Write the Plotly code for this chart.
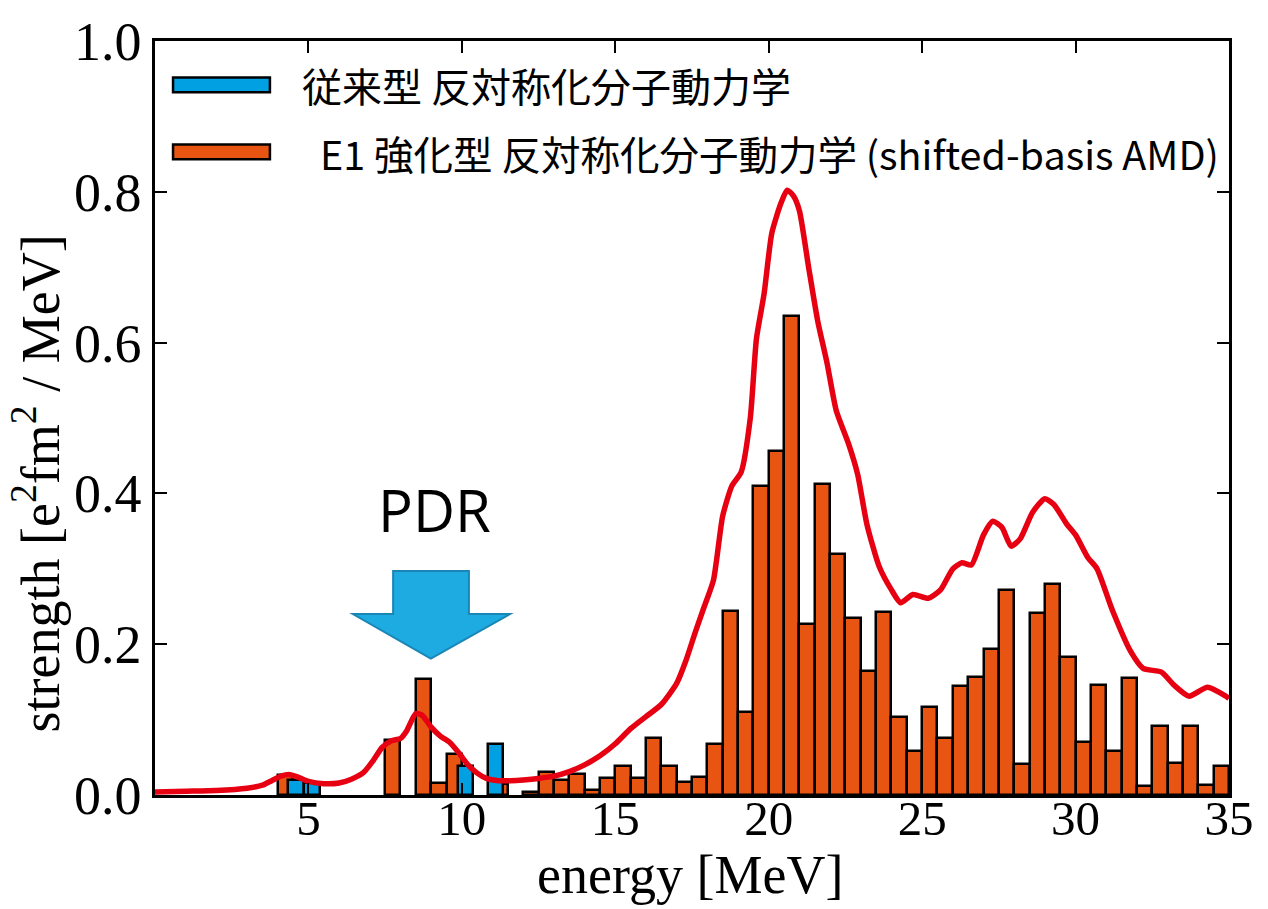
import plotly.graph_objects as go

# ---------------- data ----------------
# orange bars: shifted-basis AMD, 0.5 MeV bins (bin centers)
sb_energy = [4.25, 7.75, 8.75, 9.25, 9.75, 11.25, 12.25, 12.75, 13.25, 13.75, 14.25,
             14.75, 15.25, 15.75, 16.25, 16.75, 17.25, 17.75, 18.25, 18.75, 19.25,
             19.75, 20.25, 20.75, 21.25, 21.75, 22.25, 22.75, 23.25, 23.75, 24.25,
             24.75, 25.25, 25.75, 26.25, 26.75, 27.25, 27.75, 28.25, 28.75, 29.25,
             29.75, 30.25, 30.75, 31.25, 31.75, 32.25, 32.75, 33.25, 33.75, 34.25,
             34.75]
sb_strength = [0.026, 0.073, 0.154, 0.016, 0.054, 0.015, 0.004, 0.030, 0.020, 0.028, 0.007,
               0.022, 0.038, 0.022, 0.076, 0.039, 0.017, 0.024, 0.068, 0.244, 0.110,
               0.410, 0.456, 0.635, 0.227, 0.413, 0.319, 0.235, 0.164, 0.243, 0.103,
               0.059, 0.117, 0.076, 0.145, 0.156, 0.194, 0.272, 0.041, 0.242, 0.280,
               0.183, 0.070, 0.146, 0.058, 0.155, 0.012, 0.092, 0.042, 0.092, 0.013,
               0.039]

# blue bars: conventional AMD
conv_energy = [4.6, 5.12, 10.12, 11.1]
conv_strength = [0.020, 0.016, 0.038, 0.068]

# red smoothed strength function
curve_energy = [0.0, 1.0, 2.0, 3.0, 3.5, 3.8, 4.1, 4.4, 4.7, 5.0, 5.5, 6.0, 6.4, 6.8, 7.1,
                7.4, 7.7, 8.0, 8.2, 8.5, 8.7, 9.0, 9.3, 9.6, 9.9, 10.2, 10.5, 10.8, 11.2,
                11.6, 12.0, 12.5, 13.0, 13.5, 14.0, 14.5, 15.0, 15.5, 16.0, 16.5, 17.0,
                17.3, 17.6, 17.9, 18.2, 18.5, 18.8, 19.1, 19.4, 19.6, 19.85, 20.1, 20.4,
                20.6, 20.8, 21.0, 21.3, 21.6, 21.9, 22.2, 22.6, 22.9, 23.2, 23.6, 24.0,
                24.3, 24.7, 25.2, 25.6, 26.0, 26.3, 26.6, 27.0, 27.3, 27.6, 27.9, 28.2,
                28.6, 29.0, 29.3, 29.7, 30.0, 30.4, 30.7, 31.2, 31.8, 32.2, 32.8, 33.2,
                33.7, 34.3, 34.9, 35.0]
curve_strength = [0.004, 0.005, 0.006, 0.009, 0.013, 0.019, 0.025, 0.027, 0.023, 0.018, 0.015,
                  0.016, 0.021, 0.030, 0.045, 0.063, 0.072, 0.075, 0.085, 0.108, 0.106, 0.090,
                  0.078, 0.070, 0.056, 0.040, 0.029, 0.022, 0.019, 0.019, 0.020, 0.022, 0.025,
                  0.031, 0.040, 0.052, 0.068, 0.088, 0.104, 0.120, 0.148, 0.178, 0.215, 0.250,
                  0.285, 0.370, 0.410, 0.428, 0.500, 0.605, 0.665, 0.745, 0.785, 0.802, 0.795,
                  0.775, 0.700, 0.628, 0.573, 0.510, 0.466, 0.425, 0.359, 0.303, 0.272, 0.255,
                  0.266, 0.261, 0.272, 0.300, 0.308, 0.305, 0.345, 0.363, 0.355, 0.330, 0.340,
                  0.375, 0.393, 0.385, 0.360, 0.345, 0.315, 0.300, 0.245, 0.190, 0.168, 0.163,
                  0.146, 0.131, 0.143, 0.131, 0.128]

x_tick_vals = [5, 10, 15, 20, 25, 30, 35]
y_tick_vals = [0.0, 0.2, 0.4, 0.6, 0.8, 1.0]

legend_conv = "従来型 反対称化分子動力学"
legend_sb = "E1 強化型 反対称化分子動力学 (shifted-basis AMD)"

ORANGE = "#e85513"
BLUE = "#00a0e2"
RED = "#e60012"
SERIF = "Liberation Serif, Times New Roman, serif"
CJK = "Noto Sans CJK JP, Noto Sans, sans-serif"

fig = go.Figure()
fig.add_trace(go.Scatter(x=curve_energy, y=curve_strength, mode="lines",
                         line=dict(color=RED, width=5.5, shape="spline", smoothing=0.6),
                         showlegend=False, cliponaxis=True))
fig.add_trace(go.Bar(x=sb_energy, y=sb_strength, width=0.5, marker=dict(color=ORANGE,
                     line=dict(color="black", width=2.5)), showlegend=False))
fig.add_trace(go.Bar(x=conv_energy, y=conv_strength, width=0.5, marker=dict(color=BLUE,
                     line=dict(color="black", width=2.5)), showlegend=False))

axis_common = dict(showline=True, linecolor="black", linewidth=2.5, mirror="ticks",
                   ticks="inside", ticklen=12, tickwidth=2, tickcolor="black",
                   showgrid=False, zeroline=False)

fig.update_layout(
    width=1268, height=909,
    margin=dict(l=155, r=39, t=30, b=114),
    plot_bgcolor="white", paper_bgcolor="white",
    barmode="overlay", bargap=0,
    xaxis=dict(range=[0, 35], tickvals=x_tick_vals, ticklabelstandoff=-22,
               tickfont=dict(family=SERIF, size=49, color="black"), **axis_common),
    yaxis=dict(range=[0, 1.0], tickvals=y_tick_vals, tickformat=".1f",
               tickfont=dict(family=SERIF, size=54, color="black"), **axis_common),
    showlegend=False,
)

# axis titles
fig.add_annotation(text="energy [MeV]", xref="paper", yref="paper", x=0.498, y=-0.106,
                   showarrow=False, font=dict(family=SERIF, size=54, color="black"),
                   xanchor="center", yanchor="middle")
fig.add_annotation(text="strength [e<sup>2</sup>fm<sup>2</sup> / MeV]", xref="paper", yref="paper",
                   x=-0.11, y=0.413, textangle=-90, showarrow=False,
                   font=dict(family=SERIF, size=54, color="black"),
                   xanchor="center", yanchor="middle")

# legend (drawn manually to get the wide swatches)
fig.add_shape(type="rect", xref="paper", yref="paper", x0=0.0168, x1=0.107, y0=0.932, y1=0.9516,
              fillcolor=BLUE, line=dict(color="black", width=2.5))
fig.add_shape(type="rect", xref="paper", yref="paper", x0=0.0168, x1=0.107, y0=0.8431, y1=0.8627,
              fillcolor=ORANGE, line=dict(color="black", width=2.5))
fig.add_annotation(text=legend_conv, xref="paper", yref="paper", x=0.135, y=0.941,
                   showarrow=False, xanchor="left", yanchor="middle",
                   font=dict(family=CJK, size=40, color="black"))
fig.add_annotation(text=legend_sb, xref="paper", yref="paper", x=0.152, y=0.852,
                   showarrow=False, xanchor="left", yanchor="middle",
                   font=dict(family=CJK, size=39.5, color="black"))

# PDR label and arrow
fig.add_annotation(text="PDR", xref="x", yref="y", x=9.1, y=0.378, showarrow=False,
                   xanchor="center", yanchor="middle",
                   font=dict(family="Open Sans, Noto Sans, sans-serif", size=58, color="black"))
fig.add_shape(type="path", xref="x", yref="y",
              path="M 7.76 0.297 L 10.23 0.297 L 10.23 0.240 L 11.57 0.240 L 8.99 0.181 "
                   "L 6.45 0.240 L 7.76 0.240 Z",
              fillcolor="#1eabe2", line=dict(color="#1a86b5", width=2))

fig.write_html("out.html")
